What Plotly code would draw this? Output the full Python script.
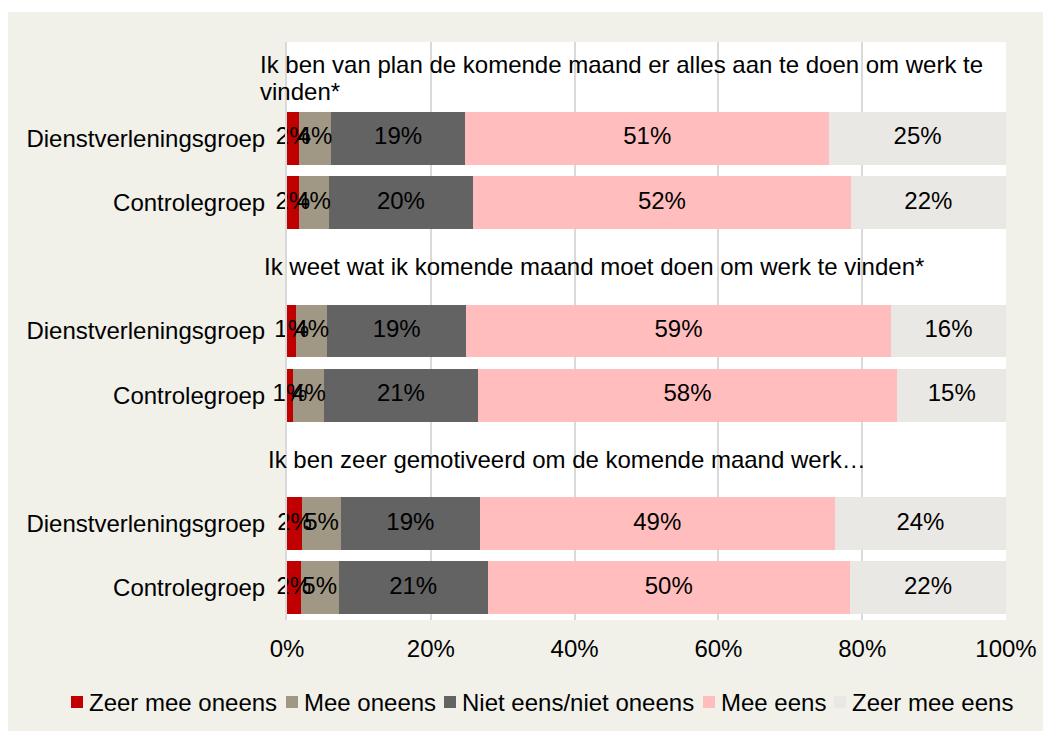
import plotly.graph_objects as go

# ---- data ----
series_names = ["Zeer mee oneens", "Mee oneens", "Niet eens/niet oneens", "Mee eens", "Zeer mee eens"]
series_colors = ["#c00000", "#a09785", "#636363", "#ffbdbd", "#eae8e4"]

question_titles = [
    ["Ik ben van plan de komende maand er alles aan te doen om werk te", "vinden*"],
    ["Ik weet wat ik komende maand moet doen om werk te vinden*"],
    ["Ik ben zeer gemotiveerd om de komende maand werk…"],
]
group_labels = ["Dienstverleningsgroep", "Controlegroep"]

# rows: Q1 Dienst, Q1 Controle, Q2 Dienst, Q2 Controle, Q3 Dienst, Q3 Controle
zeer_mee_oneens = [1.7, 1.6, 1.3, 0.8, 2.1, 1.9]
mee_oneens      = [4.4, 4.2, 4.3, 4.4, 5.4, 5.3]
niet_eens       = [18.7, 20.1, 19.3, 21.3, 19.3, 20.7]
mee_eens        = [50.6, 52.5, 59.1, 58.4, 49.4, 50.4]
zeer_mee_eens   = [24.6, 21.6, 16.0, 15.1, 23.8, 21.7]
series_values = [zeer_mee_oneens, mee_oneens, niet_eens, mee_eens, zeer_mee_eens]

x_ticks = [0, 20, 40, 60, 80, 100]
x_ticklabels = ["0%", "20%", "40%", "60%", "80%", "100%"]

# slot layout: title, Dienst, Controle per question
bar_slots = [1, 2, 4, 5, 7, 8]
title_slots = [0, 3, 6]
bar_row_labels = [group_labels[i % 2] for i in range(6)]

FONT = "Liberation Sans, Arial, sans-serif"
FS = 24

W, H = 1051, 731
ml, mt = 279, 34
pw, ph = 719, 578
mr = W - ml - pw
mb = H - mt - ph


def px_x(px):
    return (px - ml) / pw


def px_y(py):
    return 1 - (py - mt) / ph


fig = go.Figure()
for name, color, vals in zip(series_names, series_colors, series_values):
    fig.add_trace(go.Bar(
        name=name,
        y=bar_slots,
        x=vals,
        orientation="h",
        marker=dict(color=color, line=dict(width=0)),
        width=0.825,
        hoverinfo="x+name",
        showlegend=False,
    ))

# value labels on top of all bars (centered in each segment)
cum = [0.0] * len(bar_slots)
for name, vals in zip(series_names, series_values):
    mids = [c + v / 2 for c, v in zip(cum, vals)]
    cum = [c + v for c, v in zip(cum, vals)]
    fig.add_trace(go.Scatter(
        x=mids, y=bar_slots, mode="text",
        text=[f"{round(v)}%" for v in vals],
        textposition="middle center",
        textfont=dict(family=FONT, size=FS, color="black"),
        showlegend=False, hoverinfo="skip", cliponaxis=False,
    ))

annotations = []
title_x_px = [250, 254, 258]
line_gap = 27
for lines, slot, xp in zip(question_titles, title_slots, title_x_px):
    n = len(lines)
    for i, line in enumerate(lines):
        off = (i - (n - 1) / 2) * line_gap + (4 if n > 1 else 0)
        annotations.append(dict(
            text=line, x=px_x(xp), xref="paper", y=slot, yref="y",
            xanchor="left", yanchor="middle", align="left", showarrow=False,
            yshift=-off, font=dict(family=FONT, size=FS, color="black"),
        ))

shapes = [
    # thin white strip above the beige frame
    dict(type="rect", xref="paper", yref="paper",
         x0=px_x(0), x1=px_x(W), y0=px_y(4), y1=px_y(0),
         fillcolor="white", line=dict(width=0), layer="below"),
]

# manual legend (square + label), laid out in one row
legend_sq_x = [63, 278, 436, 695, 826]
sq_top, sq_size = 688, 12
for name, color, sx in zip(series_names, series_colors, legend_sq_x):
    shapes.append(dict(
        type="rect", xref="paper", yref="paper",
        x0=px_x(sx), x1=px_x(sx + sq_size), y0=px_y(sq_top + sq_size), y1=px_y(sq_top),
        fillcolor=color, line=dict(width=0), layer="above",
    ))
    annotations.append(dict(
        text=name, x=px_x(sx + sq_size + 4), xref="paper",
        y=px_y(sq_top + sq_size / 2), yref="paper",
        xanchor="left", yanchor="middle", showarrow=False,
        font=dict(family=FONT, size=FS, color="black"),
    ))

fig.update_layout(
    width=W, height=H,
    margin=dict(l=ml, r=mr, t=mt, b=mb, pad=0, autoexpand=False),
    paper_bgcolor="#f1f0e9",
    plot_bgcolor="white",
    barmode="stack",
    bargap=0,
    font=dict(family=FONT, size=FS, color="black"),
    showlegend=False,
    xaxis=dict(
        range=[0, 100], tickvals=x_ticks, ticktext=x_ticklabels,
        showgrid=True, gridcolor="#d9d9d9", gridwidth=2,
        zeroline=False, showline=False, ticks="",
        ticklabelstandoff=12,
        tickfont=dict(family=FONT, size=FS, color="black"),
        fixedrange=True,
    ),
    yaxis=dict(
        range=[8.5, -0.5], tickvals=bar_slots, ticktext=bar_row_labels,
        showgrid=False, zeroline=False, showline=True, linecolor="#d9d9d9", linewidth=2,
        ticks="", ticklabelstandoff=15,
        tickfont=dict(family=FONT, size=FS, color="black"),
        fixedrange=True,
    ),
    annotations=annotations,
    shapes=shapes,
)

fig.write_html("out.html")
